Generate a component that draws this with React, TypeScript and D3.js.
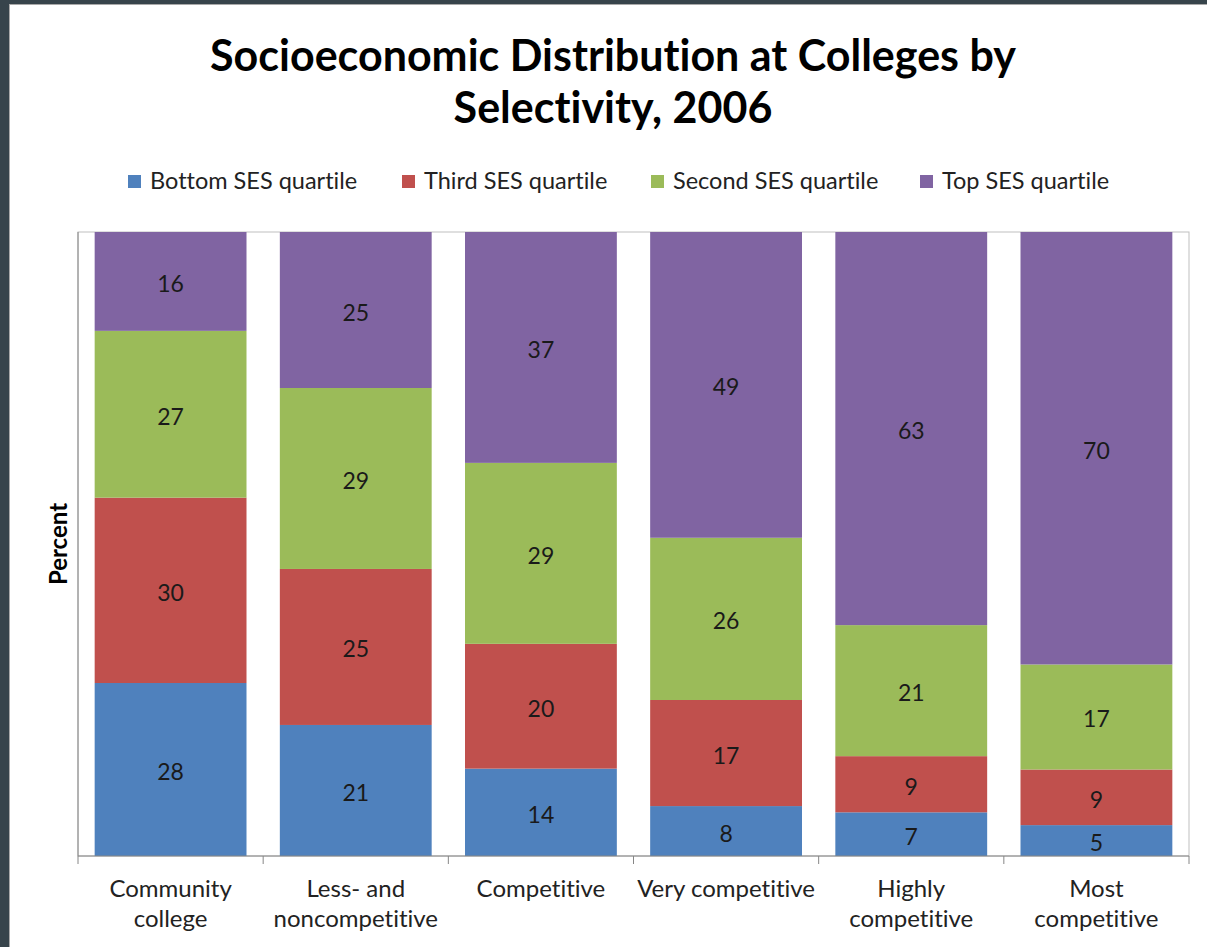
import React from "react";
import * as d3 from "d3";

const categoryLines: string[][] = [
  ["Community", "college"],
  ["Less- and", "noncompetitive"],
  ["Competitive"],
  ["Very competitive"],
  ["Highly", "competitive"],
  ["Most", "competitive"],
];
const categories = categoryLines.map((l) => l.join(" "));
const seriesNames = ["Bottom SES quartile", "Third SES quartile", "Second SES quartile", "Top SES quartile"];
const bottomQ = [28, 21, 14, 8, 7, 5];
const thirdQ = [30, 25, 20, 17, 9, 9];
const secondQ = [27, 29, 29, 26, 21, 17];
const topQ = [16, 25, 37, 49, 63, 70];
const colors = ["#4f81bd", "#c0504d", "#9bbb59", "#8064a2"];
const titleLines = ["Socioeconomic Distribution at Colleges by", "Selectivity, 2006"];
const yAxisTitle = "Percent";

const W = 1207;
const H = 947;
const FONT = "Lato, 'Open Sans', sans-serif";
const noLig: React.CSSProperties = { fontVariantLigatures: "none", fontFeatureSettings: "'liga' 0, 'clig' 0" };

export default function App() {
  const seriesValues = [bottomQ, thirdQ, secondQ, topQ];
  const rows = categories.map((c, i) => {
    const r: any = { cat: c };
    seriesNames.forEach((s, j) => (r[s] = seriesValues[j][i]));
    return r;
  });
  const stacked = d3.stack<any>().keys(seriesNames).offset(d3.stackOffsetExpand)(rows);

  const plot = { left: 78, right: 1189, top: 232, bottom: 856 };
  const x = d3.scaleBand<string>().domain(categories).range([plot.left, plot.right]).paddingInner(0.18).paddingOuter(0.09);
  const y = d3.scaleLinear().domain([0, 1]).range([plot.bottom, plot.top]);
  const step = (plot.right - plot.left) / categories.length;

  const legendX = [128, 402, 651, 920];

  return (
    <div style={{ position: "absolute", left: 0, top: 0 }}>
      <svg width={W} height={H} style={{ display: "block", ...noLig }}>
        <rect x={0} y={0} width={W} height={H} fill="#37444b" />
        <rect x={9.5} y={4.5} width={W} height={H} fill="#ffffff" stroke="#a9a9a9" strokeWidth={1} />
        {titleLines.map((t, i) => (
          <text key={t} x={613} y={71 + i * 52} textAnchor="middle" fontFamily={FONT} fontWeight="bold" fontSize={43} fill="#000">
            {t}
          </text>
        ))}
        {seriesNames.map((s, i) => (
          <g key={s}>
            <rect x={legendX[i]} y={175} width={13} height={13} fill={colors[i]} />
            <text x={legendX[i] + 22} y={189} fontFamily={FONT} fontSize={23.5} fill="#222">
              {s}
            </text>
          </g>
        ))}
        <rect x={plot.left} y={plot.top} width={plot.right - plot.left} height={plot.bottom - plot.top} fill="none" stroke="#bfbfbf" strokeWidth={1} />
        {stacked.map((layer, si) => (
          <g key={layer.key}>
            {layer.map((d, ci) => {
              const x0 = x(categories[ci])!;
              const y0 = y(d[1]);
              const h = y(d[0]) - y(d[1]);
              return (
                <g key={ci}>
                  <rect x={x0} y={y0} width={x.bandwidth()} height={h} fill={colors[si]} />
                  <text x={x0 + x.bandwidth() / 2} y={y0 + h / 2 + 10.5} textAnchor="middle" fontFamily={FONT} fontSize={23} fill="#1a1a1a">
                    {seriesValues[si][ci]}
                  </text>
                </g>
              );
            })}
          </g>
        ))}
        <line x1={plot.left} x2={plot.left} y1={plot.top} y2={plot.bottom} stroke="#868686" />
        <line x1={plot.left} x2={plot.right} y1={plot.bottom} y2={plot.bottom} stroke="#868686" />
        {d3.range(categories.length + 1).map((i) => (
          <line key={i} x1={plot.left + i * step} x2={plot.left + i * step} y1={plot.bottom} y2={plot.bottom + 8} stroke="#868686" />
        ))}
        {categoryLines.map((lines, ci) => (
          <text key={ci} textAnchor="middle" fontFamily={FONT} fontSize={24} fill="#222">
            {lines.map((l, li) => (
              <tspan key={li} x={x(categories[ci])! + x.bandwidth() / 2} y={897 + li * 30}>
                {l}
              </tspan>
            ))}
          </text>
        ))}
        <text transform="translate(67,544) rotate(-90)" textAnchor="middle" fontFamily={FONT} fontWeight="bold" fontSize={24} fill="#000">
          {yAxisTitle}
        </text>
      </svg>
    </div>
  );
}
